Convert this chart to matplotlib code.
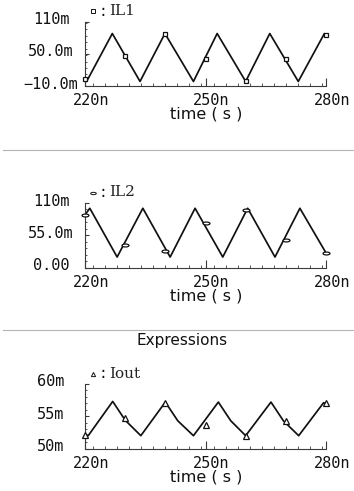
import matplotlib
matplotlib.use("Agg")
import matplotlib.pyplot as plt
from matplotlib.path import Path
from matplotlib.transforms import Affine2D, ScaledTranslation
from matplotlib.ticker import MultipleLocator
from matplotlib.lines import Line2D

# ---------------- data (time in ns, current in mA) ----------------
il1_t = [220.0, 220.4, 226.8, 233.7, 239.9, 247.0, 252.9, 260.0, 266.0, 273.1, 279.6, 280.0]
il1_v = [4.0, -1.0, 88.0, -1.0, 88.0, -1.0, 88.0, -1.0, 88.0, -1.0, 88.0, 85.0]

il2_t = [220.0, 221.2, 228.0, 234.4, 241.2, 247.4, 254.3, 260.5, 267.3, 273.5, 280.0]
il2_v = [90.0, 101.0, 18.0, 101.0, 18.0, 101.0, 18.0, 101.0, 18.0, 101.0, 25.0]

iout_t = [220.0, 220.8, 226.9, 230.0, 233.9, 240.0, 243.1, 247.0, 253.2, 256.3,
          260.0, 266.3, 269.4, 273.2, 279.4, 280.0]
iout_v = [52.2, 52.0, 57.3, 54.4, 52.0, 57.2, 54.3, 52.0, 57.2, 54.3,
          52.0, 57.2, 54.3, 52.0, 57.1, 56.9]

mark_t = [220, 230, 240, 250, 260, 270, 280]
il1_mark = [4.0, 47.0, 88.0, 41.0, -1.0, 41.0, 85.0]
il2_mark = [90.0, 39.0, 28.0, 76.0, 98.0, 47.0, 25.0]
iout_mark = [52.1, 54.8, 57.1, 53.7, 52.0, 54.2, 57.0]

x_ticks = [220, 250, 280]
x_ticklabels = ["220n", "250n", "280n"]

il1_yticks = [-10, 50, 110]
il1_yticklabels = ["\u221210.0m", "50.0m", "110m"]
il2_yticks = [0, 55, 110]
il2_yticklabels = ["0.00", "55.0m", "110m"]
iout_yticks = [50, 55, 60]
iout_yticklabels = ["50m", "55m", "60m"]

names = ["IL1", "IL2", "Iout"]

# ---------------- figure ----------------
W, H = 354, 491
fig = plt.figure(figsize=(W / 100, H / 100), dpi=100)

capsule = Path.unit_circle().transformed(Affine2D().scale(1.0, 0.42))

panels = [
    dict(t=il1_t, v=il1_v, mv=il1_mark, yt=il1_yticks, yl=il1_yticklabels,
         ylim=(-10, 110), minor=12, top=21.7, marker="s", ms=2.8, name=names[0]),
    dict(t=il2_t, v=il2_v, mv=il2_mark, yt=il2_yticks, yl=il2_yticklabels,
         ylim=(0, 110), minor=11, top=203.0, marker=capsule, ms=5.0, name=names[1]),
    dict(t=iout_t, v=iout_v, mv=iout_mark, yt=iout_yticks, yl=iout_yticklabels,
         ylim=(50, 60), minor=1, top=384.0, marker="^", ms=3.8, name=names[2]),
]

LEFT, RIGHT, HGT = 85.0, 326.0, 64.6
spine_col = "#3a3a3a"
ink = "#111111"
mono = "DejaVu Sans Mono"

for p in panels:
    top = p["top"]
    bottom = top + HGT
    ax = fig.add_axes([LEFT / W, 1 - bottom / H, (RIGHT - LEFT) / W, HGT / H])
    ax.plot(p["t"], p["v"], color=ink, lw=1.25, solid_joinstyle="round")
    ax.plot(mark_t, p["mv"], linestyle="none", marker=p["marker"], ms=p["ms"],
            mfc="white", mec=ink, mew=0.9, clip_on=False, zorder=3)
    ax.set_xlim(220, 280)
    ax.set_ylim(*p["ylim"])
    for s in ("top", "right"):
        ax.spines[s].set_visible(False)
    for s in ("left", "bottom"):
        ax.spines[s].set_color(spine_col)
        ax.spines[s].set_linewidth(0.8)
    ax.set_xticks(x_ticks)
    ax.set_xticklabels(x_ticklabels, fontsize=11, family=mono, color=ink)
    ax.xaxis.set_minor_locator(MultipleLocator(3))
    ax.set_yticks(p["yt"])
    ax.set_yticklabels(p["yl"], fontsize=11, family=mono, ha="center", color=ink)
    ax.yaxis.set_minor_locator(MultipleLocator(p["minor"]))
    ax.tick_params(axis="x", which="major", direction="in", length=5.8, width=0.8,
                   color=spine_col, pad=5.0)
    ax.tick_params(axis="x", which="minor", direction="in", length=2.2, width=0.6,
                   color=spine_col)
    ax.tick_params(axis="y", which="major", direction="in", length=3.2, width=0.8,
                   color=spine_col, pad=24.5)
    ax.tick_params(axis="y", which="minor", direction="in", length=1.7, width=0.6,
                   color=spine_col)
    for tk in ax.yaxis.get_major_ticks():
        tk.label1.set_transform(tk.label1.get_transform() +
                                ScaledTranslation(0, 3.5 / 100, fig.dpi_scale_trans))
    for tk in ax.xaxis.get_major_ticks():
        tk.label1.set_transform(tk.label1.get_transform() +
                                ScaledTranslation(6 / 100, 0, fig.dpi_scale_trans))
    ax.annotate("time ( s )", xy=(0.5, 0), xycoords="axes fraction",
                xytext=(0.5 * 0.72, -28.0 * 0.72), textcoords="offset points",
                ha="center", va="center", fontsize=11.5, family="DejaVu Sans",
                color=ink)
    # legend-like label above the axes
    ly = 1 - (top - 10.5) / H
    fig.add_artist(Line2D([92.5 / W], [ly], transform=fig.transFigure,
                          marker=p["marker"], ms=p["ms"] * 0.8, mfc="white",
                          mec=ink, mew=0.7, linestyle="none"))
    fig.text(98.5 / W, ly, ":", ha="left", va="center", fontsize=10.5,
             family="DejaVu Sans Mono", color=ink)
    fig.text(109.0 / W, ly, p["name"], ha="left", va="center", fontsize=11,
             family="DejaVu Serif", color="#222222")

# separators and section title
for yy in (150, 330):
    fig.add_artist(Line2D([3 / W, 1.0], [1 - yy / H, 1 - yy / H],
                          transform=fig.transFigure, color="#b4b4b4", lw=0.8))
fig.text(182 / W, 1 - 340 / H, "Expressions", ha="center", va="center",
         fontsize=11, family="DejaVu Sans", color=ink)

fig.savefig("out.png", dpi=100, facecolor="white")
